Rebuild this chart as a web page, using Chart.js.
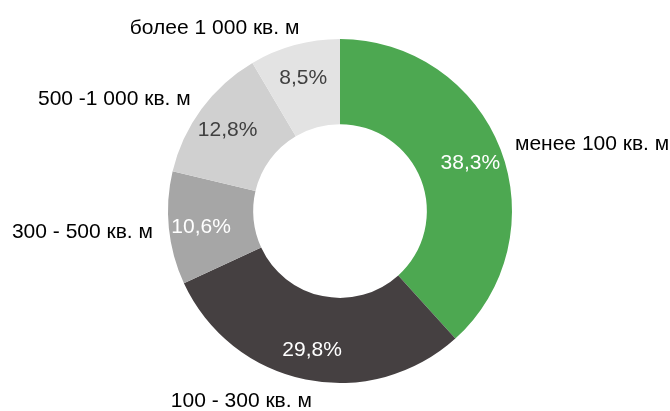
<!DOCTYPE html>
<html>
<head>
<meta charset="utf-8">
<script src="https://cdn.jsdelivr.net/npm/chart.js@4"></script>
<style>
html,body{margin:0;padding:0;background:#fff;}
#wrap{width:670px;height:411px;position:relative;}
</style>
</head>
<body>
<div id="wrap"><canvas id="c" width="670" height="411"></canvas></div>
<script>
const categories = ["менее 100 кв. м", "100 - 300 кв. м", "300 - 500 кв. м", "500 -1 000 кв. м", "более 1 000 кв. м"];
const values = [38.3, 29.8, 10.6, 12.8, 8.5];
const valueLabels = ["38,3%", "29,8%", "10,6%", "12,8%", "8,5%"];
const colors = ["#4DA851", "#454041", "#A6A6A6", "#D0D0D0", "#E3E3E3"];
const valueTextColors = ["#ffffff", "#ffffff", "#ffffff", "#404040", "#404040"];

const FONT = '"Liberation Sans", Arial, sans-serif';

const labelPlugin = {
  id: 'labels',
  afterDatasetsDraw(chart) {
    const ctx = chart.ctx;
    const meta = chart.getDatasetMeta(0);
    ctx.save();
    meta.data.forEach((arc, i) => {
      const p = arc.getProps(['x','y','startAngle','endAngle','innerRadius','outerRadius'], true);
      const mid = (p.startAngle + p.endAngle) / 2;
      const cos = Math.cos(mid), sin = Math.sin(mid);
      // value labels inside ring
      const rIn = p.innerRadius + (p.outerRadius - p.innerRadius) * 0.62;
      ctx.font = '21px ' + FONT;
      ctx.fillStyle = valueTextColors[i];
      ctx.textAlign = 'center';
      ctx.textBaseline = 'middle';
      ctx.fillText(valueLabels[i], p.x + rIn * cos, p.y + rIn * sin + 2);
      // category labels outside
      const rOut = p.outerRadius + 16;
      const side = cos >= 0 ? 1 : -1;
      const s3 = Math.pow(Math.abs(sin), 3);
      const ax = p.x + rOut * cos - side * s3 * 10;
      const ay = p.y + rOut * sin + sin * 4 + 2;
      ctx.fillStyle = '#000000';
      ctx.textAlign = side > 0 ? 'left' : 'right';
      ctx.fillText(categories[i], ax, ay);
    });
    ctx.restore();
  }
};

new Chart(document.getElementById('c'), {
  type: 'doughnut',
  data: {
    labels: categories,
    datasets: [{
      data: values,
      backgroundColor: colors,
      borderWidth: 0,
      hoverOffset: 0
    }]
  },
  options: {
    responsive: false,
    animation: false,
    cutout: '50.5%',
    rotation: 0,
    layout: { padding: { left: 168, right: 158, top: 39, bottom: 28 } },
    plugins: { legend: { display: false }, tooltip: { enabled: false } }
  },
  plugins: [labelPlugin]
});
</script>
</body>
</html>
